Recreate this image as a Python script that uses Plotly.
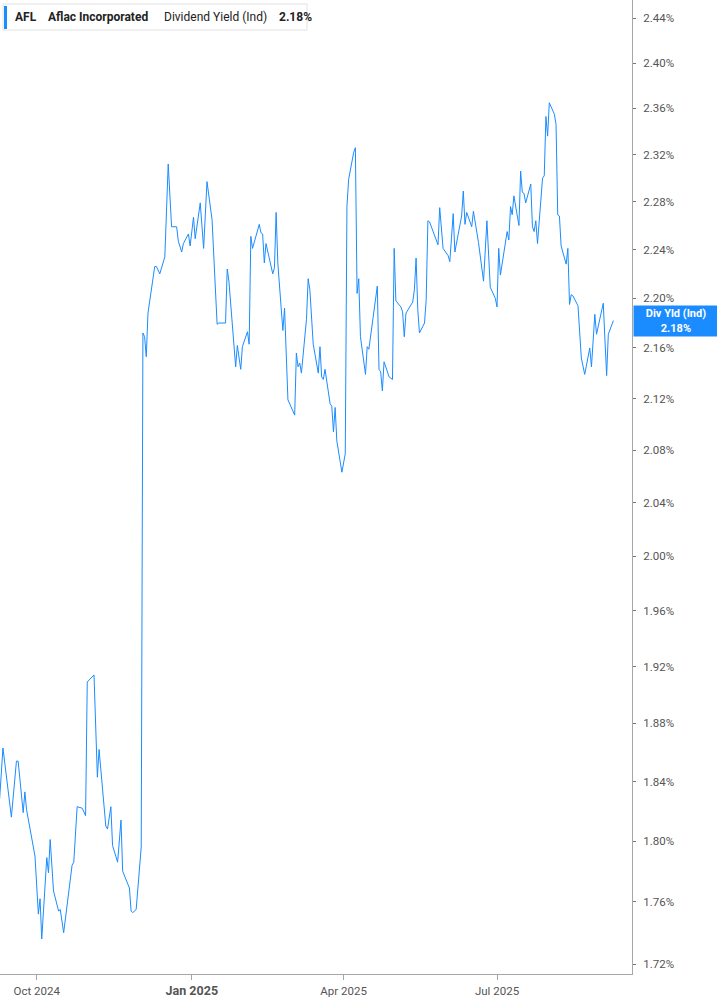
import numpy as np
import plotly.graph_objects as go

# AFL indicated dividend yield, %
dates = [
    "2024-09-09", "2024-09-11", "2024-09-16", "2024-09-19", "2024-09-20", "2024-09-23", "2024-09-24",
    "2024-09-25", "2024-09-30", "2024-10-02", "2024-10-03", "2024-10-04", "2024-10-07", "2024-10-08",
    "2024-10-09", "2024-10-11", "2024-10-14", "2024-10-15", "2024-10-17", "2024-10-22", "2024-10-23",
    "2024-10-25", "2024-10-28", "2024-10-30", "2024-10-31", "2024-11-04", "2024-11-06", "2024-11-07",
    "2024-11-11", "2024-11-12", "2024-11-14", "2024-11-15", "2024-11-18", "2024-11-20", "2024-11-21",
    "2024-11-25", "2024-11-26", "2024-11-27", "2024-11-29", "2024-12-02", "2024-12-03", "2024-12-04",
    "2024-12-05", "2024-12-06", "2024-12-10", "2024-12-11", "2024-12-13", "2024-12-16", "2024-12-18",
    "2024-12-20", "2024-12-23", "2024-12-24", "2024-12-26", "2024-12-27", "2024-12-30", "2024-12-31",
    "2025-01-02", "2025-01-03", "2025-01-06", "2025-01-08", "2025-01-10", "2025-01-13", "2025-01-16",
    "2025-01-17", "2025-01-21", "2025-01-22", "2025-01-23", "2025-01-27", "2025-01-28", "2025-01-30",
    "2025-01-31", "2025-02-03", "2025-02-04", "2025-02-05", "2025-02-06", "2025-02-10", "2025-02-11",
    "2025-02-12", "2025-02-13", "2025-02-14", "2025-02-18", "2025-02-19", "2025-02-20", "2025-02-21",
    "2025-02-24", "2025-02-25", "2025-02-27", "2025-03-03", "2025-03-04", "2025-03-05", "2025-03-06",
    "2025-03-07", "2025-03-10", "2025-03-11", "2025-03-12", "2025-03-14", "2025-03-17", "2025-03-18",
    "2025-03-19", "2025-03-20", "2025-03-21", "2025-03-24", "2025-03-25", "2025-03-26", "2025-03-27",
    "2025-03-28", "2025-03-31", "2025-04-02", "2025-04-03", "2025-04-04", "2025-04-07", "2025-04-08",
    "2025-04-09", "2025-04-10", "2025-04-11", "2025-04-14", "2025-04-15", "2025-04-16", "2025-04-21",
    "2025-04-22", "2025-04-23", "2025-04-24", "2025-04-25", "2025-04-28", "2025-04-30", "2025-05-01",
    "2025-05-02", "2025-05-05", "2025-05-06", "2025-05-07", "2025-05-08", "2025-05-12", "2025-05-13",
    "2025-05-14", "2025-05-15", "2025-05-16", "2025-05-19", "2025-05-20", "2025-05-21", "2025-05-22",
    "2025-05-27", "2025-05-28", "2025-05-30", "2025-06-02", "2025-06-03", "2025-06-05", "2025-06-06",
    "2025-06-10", "2025-06-11", "2025-06-12", "2025-06-13", "2025-06-16", "2025-06-17", "2025-06-20",
    "2025-06-23", "2025-06-25", "2025-06-27", "2025-06-30", "2025-07-01", "2025-07-02", "2025-07-03",
    "2025-07-07", "2025-07-08", "2025-07-09", "2025-07-10", "2025-07-11", "2025-07-14", "2025-07-15",
    "2025-07-16", "2025-07-17", "2025-07-18", "2025-07-21", "2025-07-22", "2025-07-23", "2025-07-24",
    "2025-07-25", "2025-07-28", "2025-07-29", "2025-07-30", "2025-07-31", "2025-08-01", "2025-08-04",
    "2025-08-05", "2025-08-06", "2025-08-07", "2025-08-08", "2025-08-11", "2025-08-12", "2025-08-13",
    "2025-08-14", "2025-08-15", "2025-08-18", "2025-08-20", "2025-08-22", "2025-08-25", "2025-08-26",
    "2025-08-28", "2025-08-29", "2025-09-02", "2025-09-04", "2025-09-05", "2025-09-08",
]
div_yield = [
    1.828, 1.863, 1.816, 1.854, 1.854, 1.819, 1.833,
    1.821, 1.790, 1.752, 1.762, 1.736, 1.789, 1.779,
    1.801, 1.767, 1.754, 1.755, 1.740, 1.784, 1.786,
    1.823, 1.822, 1.817, 1.909, 1.914, 1.843, 1.862,
    1.810, 1.808, 1.823, 1.797, 1.786, 1.814, 1.780,
    1.769, 1.754, 1.753, 1.755, 1.796, 2.172, 2.169,
    2.153, 2.188, 2.226, 2.226, 2.220, 2.234, 2.312,
    2.259, 2.259, 2.247, 2.238, 2.245, 2.253, 2.243,
    2.267, 2.249, 2.279, 2.241, 2.297, 2.265, 2.179,
    2.180, 2.180, 2.224, 2.214, 2.145, 2.162, 2.143,
    2.161, 2.173, 2.163, 2.251, 2.241, 2.261, 2.254,
    2.253, 2.229, 2.245, 2.220, 2.225, 2.271, 2.229,
    2.174, 2.192, 2.119, 2.107, 2.156, 2.145, 2.148,
    2.140, 2.183, 2.216, 2.207, 2.163, 2.140, 2.161,
    2.137, 2.135, 2.143, 2.116, 2.114, 2.094, 2.113,
    2.087, 2.063, 2.077, 2.276, 2.299, 2.322, 2.326,
    2.204, 2.216, 2.169, 2.139, 2.161, 2.159, 2.210,
    2.143, 2.141, 2.126, 2.149, 2.137, 2.135, 2.241,
    2.198, 2.193, 2.189, 2.169, 2.188, 2.197, 2.207,
    2.233, 2.191, 2.172, 2.180, 2.199, 2.264, 2.263,
    2.244, 2.275, 2.241, 2.235, 2.230, 2.270, 2.238,
    2.268, 2.289, 2.261, 2.271, 2.259, 2.272, 2.246,
    2.214, 2.264, 2.209, 2.200, 2.193, 2.241, 2.219,
    2.255, 2.248, 2.276, 2.269, 2.285, 2.260, 2.306,
    2.288, 2.287, 2.279, 2.295, 2.259, 2.255, 2.264,
    2.245, 2.300, 2.302, 2.353, 2.336, 2.365, 2.355,
    2.346, 2.269, 2.268, 2.243, 2.228, 2.241, 2.195,
    2.203, 2.202, 2.194, 2.152, 2.139, 2.160, 2.145,
    2.187, 2.171, 2.196, 2.138, 2.171, 2.182,
]

y_ticks = [1.72, 1.76, 1.80, 1.84, 1.88, 1.92, 1.96, 2.00, 2.04, 2.08,
           2.12, 2.16, 2.20, 2.24, 2.28, 2.32, 2.36, 2.40, 2.44]
x_ticks = ["2024-10-01", "2025-01-01", "2025-04-01", "2025-07-01"]
# the year-start label is drawn bold and a bit bigger, like the original
x_tick_labels = ["Oct 2024", "<span style='font-size:12.5px'><b>Jan 2025</b></span>",
                 "Apr 2025", "Jul 2025"]

ticker = "AFL"
company = "Aflac Incorporated"
metric = "Dividend Yield (Ind)"
short_metric = "Div Yld (Ind)"

BLUE = "#1a8cff"
GREY = "#555555"
FONT = "Roboto"
last = div_yield[-1]

# plot area is 632 x 974 px; helpers to place decorations in paper coords
PW, PH = 632, 974
def px(x):
    return x / PW
def py(y):
    return 1 - y / PH

fig = go.Figure()
fig.add_trace(go.Scatter(
    x=dates, y=div_yield, mode="lines",
    line=dict(color=BLUE, width=1),
    hoverinfo="skip", showlegend=False,
))

fig.update_layout(
    width=717, height=1005,
    margin=dict(l=0, r=85, t=0, b=31),
    plot_bgcolor="white",
    paper_bgcolor="white",
    font=dict(family=FONT, size=11.5, color=GREY),
    xaxis=dict(
        type="date",
        range=["2024-09-09 06:00", "2025-09-19 01:00"],
        tickvals=x_ticks, ticktext=x_tick_labels,
        showgrid=False, zeroline=False,
        showline=True, linecolor="#a6a6a6", linewidth=1,
        ticks="outside", ticklen=5, tickcolor="#a6a6a6",
        ticklabelstandoff=1,
        tickfont=dict(family=FONT, size=11.5, color=GREY),
    ),
    yaxis=dict(
        type="log", side="right",
        range=[0.233922, 0.390329],
        tickvals=y_ticks, ticktext=[f"{v:.2f}%" for v in y_ticks],
        showgrid=False, zeroline=False,
        showline=True, linecolor="#a6a6a6", linewidth=1,
        ticks="outside", ticklen=3, tickcolor="#777777",
        ticklabelstandoff=5,
        tickfont=dict(family=FONT, size=11.5, color=GREY),
    ),
)

# header box, top left
fig.add_shape(type="rect", xref="paper", yref="paper",
              x0=px(3), x1=px(307), y0=py(30), y1=py(4),
              line=dict(color="#e2e2e2", width=1), fillcolor="white")
fig.add_shape(type="rect", xref="paper", yref="paper",
              x0=px(4), x1=px(7), y0=py(29), y1=py(6),
              line=dict(width=0), fillcolor=BLUE)
header = [(13, f"<b>{ticker}</b>"), (46, f"<b>{company}</b>"),
          (162, metric), (277, f"<b>{last:.2f}%</b>")]
for hx, txt in header:
    fig.add_annotation(xref="paper", yref="paper", x=px(hx), y=py(17),
                       xanchor="left", yanchor="middle", text=txt, showarrow=False,
                       font=dict(family=FONT, size=12, color="#222222"))

# last value flag on the right axis
fig.add_annotation(xref="paper", yref="y", x=1, y=np.log10(last), xshift=1,
                   xanchor="left", yanchor="middle", showarrow=False,
                   text=f"<b>{short_metric}</b><br><b>{last:.2f}%</b>",
                   font=dict(family=FONT, size=11, color="white"),
                   bgcolor=BLUE, width=84, height=30, borderpad=0, align="center")

# drop the browser's default page margin so the figure sits at 0,0
fig.write_html("out.html", config={"displayModeBar": False},
               post_script="document.body.style.margin = '0';")
